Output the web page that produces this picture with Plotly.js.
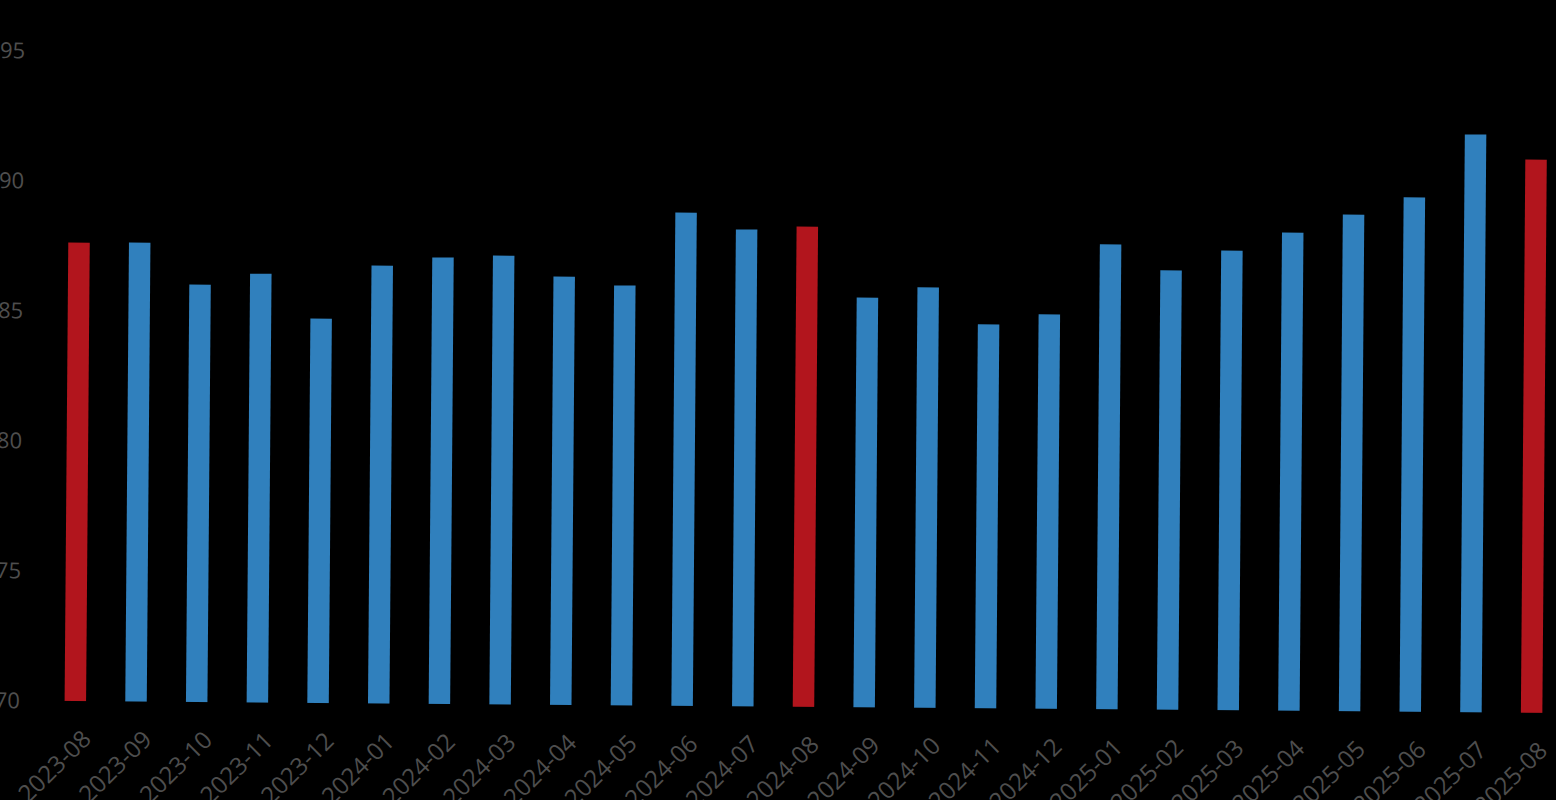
<!DOCTYPE html>
<html>
<head>
<meta charset="utf-8">
<script src="https://cdn.plot.ly/plotly-3.0.1.min.js"></script>
<style>
  html, body { margin: 0; padding: 0; background: #000; width: 1556px; height: 800px; overflow: hidden; }
  #chart { position: absolute; left: -35px; top: 0px; transform: rotate(0.46deg); transform-origin: 110px 701px; }
</style>
</head>
<body>
<div id="chart"></div>
<script>
const months = ["2023-08","2023-09","2023-10","2023-11","2023-12","2024-01","2024-02","2024-03","2024-04","2024-05","2024-06","2024-07","2024-08","2024-09","2024-10","2024-11","2024-12","2025-01","2025-02","2025-03","2025-04","2025-05","2025-06","2025-07","2025-08"];
const values = [87.63,87.65,86.05,86.49,84.78,86.84,87.17,87.26,86.47,86.15,88.97,88.34,88.47,85.76,86.17,84.77,85.17,87.88,86.90,87.68,88.39,89.10,89.78,92.22,91.27];
const highlightMonth = "-08";
const highlightColor = "#b2151d";
const normalColor = "#3080bd";
const yTicks = [70,75,80,85,90,95];

const colors = months.map(m => m.endsWith(highlightMonth) ? highlightColor : normalColor);

const trace = {
  type: "bar",
  x: months,
  y: values,
  marker: { color: colors, line: { width: 0 } },
  hoverinfo: "none"
};

const layout = {
  width: 1617,
  height: 821,
  margin: { l: 80, r: 20, t: 12, b: 120 },
  paper_bgcolor: "#000",
  plot_bgcolor: "#000",
  bargap: 0.646,
  showlegend: false,
  font: { family: "Open Sans, Noto Sans, sans-serif", size: 22, color: "#555" },
  xaxis: {
    type: "category",
    tickangle: -45,
    showgrid: false,
    zeroline: false,
    showline: false,
    ticks: "",
    ticklabelstandoff: 18,
    ticklabelshift: 9,
    tickfont: { family: "Open Sans, sans-serif", size: 24, color: "#4e4e4e" }
  },
  yaxis: {
    range: [70, 96.5],
    tickvals: yTicks,
    ticktext: yTicks.map(String),
    showgrid: false,
    zeroline: false,
    showline: false,
    ticks: "",
    ticklabelstandoff: 24,
    tickfont: { family: "Open Sans, sans-serif", size: 22, color: "#4e4e4e" }
  }
};

Plotly.newPlot("chart", [trace], layout, { staticPlot: true, displayModeBar: false });
</script>
</body>
</html>
